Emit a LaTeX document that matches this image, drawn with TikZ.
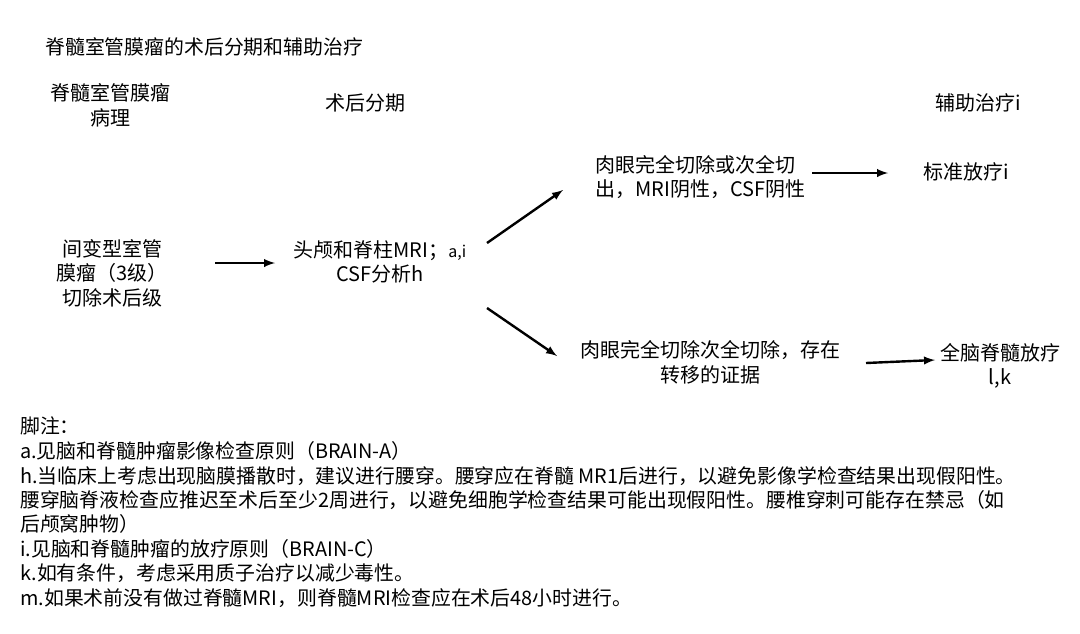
\documentclass[tikz,border=0pt]{standalone}
\usepackage{fontspec}
\setmainfont{Noto Sans CJK SC}
\begin{document}
\begin{tikzpicture}[x=0.75pt,y=-0.75pt,
  t/.style={inner sep=0,font=\fontsize{15}{18.5}\selectfont,align=center},
  fn/.style={inner sep=0,anchor=west,font=\fontsize{14.9}{18}\selectfont},
  arr/.style={-latex,line width=1.8pt}]
\useasboundingbox[fill=white] (0,0) rectangle (1080,633);
\node[fn] (title) at (45,47) {脊髓室管膜瘤的术后分期和辅助治疗};
\node[t] (h1) at (110,105) {脊髓室管膜瘤\\病理};
\node[t] (h2) at (365,103) {术后分期};
\node[t] (h3) at (978,103) {辅助治疗i};
\node[t] (a) at (112,273) {间变型室管\\膜瘤（3级）\\切除术后级};
\node[t] (b) at (380,262) {头颅和脊柱MRI；{\fontsize{12}{14}\selectfont a,i}\\CSF分析h};
\node[t,align=left,anchor=west] (c) at (595,177) {肉眼完全切除或次全切\\出，MRI阴性，CSF阴性};
\node[t] (d) at (966,172) {标准放疗i};
\node[t] (e) at (710,362) {肉眼完全切除次全切除，存在\\转移的证据};
\node[t] (f) at (1000,366) {全脑脊髓放疗\\l,k};
\coordinate (a1) at (215,263); \coordinate (a2) at (275,263);
\coordinate (b1) at (487,243); \coordinate (c0) at (563,190);
\coordinate (b2) at (487,308); \coordinate (e0) at (557,356);
\coordinate (c1) at (812,173); \coordinate (d0) at (888,173);
\coordinate (e1) at (866,363); \coordinate (f0) at (935,360);
\draw[arr] (a1) -- (a2);
\draw[arr] (b1) -- (c0);
\draw[arr] (b2) -- (e0);
\draw[arr] (c1) -- (d0);
\draw[arr] (e1) -- (f0);
\node[fn] (n0) at (20,426) {脚注：};
\node[fn] (n1) at (20,451) {a.见脑和脊髓肿瘤影像检查原则（BRAIN-A）};
\node[fn] (n2) at (20,476) {h.当临床上考虑出现脑膜播散时，建议进行腰穿。腰穿应在脊髓 MR1后进行，以避免影像学检查结果出现假阳性。};
\node[fn] (n3) at (20,500) {腰穿脑脊液检查应推迟至术后至少2周进行，以避免细胞学检查结果可能出现假阳性。腰椎穿刺可能存在禁忌（如};
\node[fn] (n4) at (20,524) {后颅窝肿物）};
\node[fn] (n5) at (20,549) {i.见脑和脊髓肿瘤的放疗原则（BRAIN-C）};
\node[fn] (n6) at (20,573) {k.如有条件，考虑采用质子治疗以减少毒性。};
\node[fn] (n7) at (20,598) {m.如果术前没有做过脊髓MRI，则脊髓MRI检查应在术后48小时进行。};
\end{tikzpicture}
\end{document}
